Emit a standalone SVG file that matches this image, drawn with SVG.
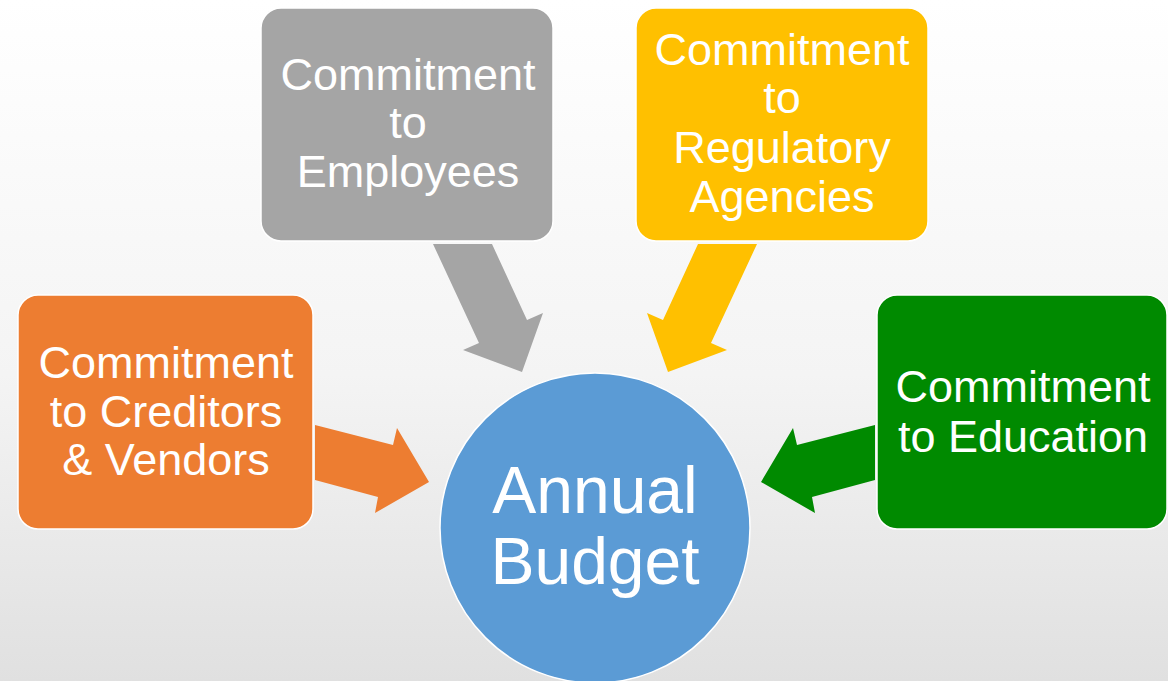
<svg xmlns="http://www.w3.org/2000/svg" width="1168" height="681" viewBox="0 0 1168 681">
<defs>
<linearGradient id="bg" x1="0" y1="0" x2="0" y2="1">
<stop offset="0" stop-color="#ffffff"/>
<stop offset="0.55" stop-color="#f4f4f4"/>
<stop offset="1" stop-color="#e0e0e0"/>
</linearGradient>
<style>
.box{stroke:#ffffff;stroke-width:1.5}
.t{font-family:"Liberation Sans",Arial,sans-serif;font-size:45px;fill:#ffffff;text-anchor:middle}
.big{font-size:66px}
</style>
</defs>
<rect x="0" y="0" width="1168" height="681" fill="url(#bg)"/>
<g id="connectors">
<polygon fill="#ED7D31" points="315,425 393,445 397,428 429,482 375,513 378,497 315,480"/>
<polygon fill="#008A00" points="875,425 797,445 793,428 761,482 815,513 812,497 875,480"/>
<polygon fill="#A5A5A5" points="433,244 492,244 527,320 543,313 522,372 463,350 479,343"/>
<polygon fill="#FFC000" points="757,244 698,244 663,320 647,313 668,372 727,350 711,343"/>
</g>
<g id="node-budget">
<circle class="box" cx="595" cy="528" r="155" fill="#5B9BD5"/>
<text class="t big" x="595" y="513">Annual</text>
<text class="t big" x="595" y="584">Budget</text>
</g>
<g id="node-creditors">
<rect class="box" x="18" y="295" width="295" height="234" rx="20" fill="#ED7D31"/>
<text class="t" x="166" y="378">Commitment</text>
<text class="t" x="166" y="427">to Creditors</text>
<text class="t" x="166" y="475">&amp; Vendors</text>
</g>
<g id="node-education">
<rect class="box" x="877" y="295" width="290" height="234" rx="20" fill="#008A00"/>
<text class="t" x="1023" y="402">Commitment</text>
<text class="t" x="1023" y="452">to Education</text>
</g>
<g id="node-employees">
<rect class="box" x="261" y="8" width="292" height="233" rx="20" fill="#A5A5A5"/>
<text class="t" x="408" y="90">Commitment</text>
<text class="t" x="408" y="138">to</text>
<text class="t" x="408" y="187">Employees</text>
</g>
<g id="node-regulatory">
<rect class="box" x="636" y="8" width="292" height="233" rx="20" fill="#FFC000"/>
<text class="t" x="782" y="65">Commitment</text>
<text class="t" x="782" y="113">to</text>
<text class="t" x="782" y="163">Regulatory</text>
<text class="t" x="782" y="212">Agencies</text>
</g>
</svg>
